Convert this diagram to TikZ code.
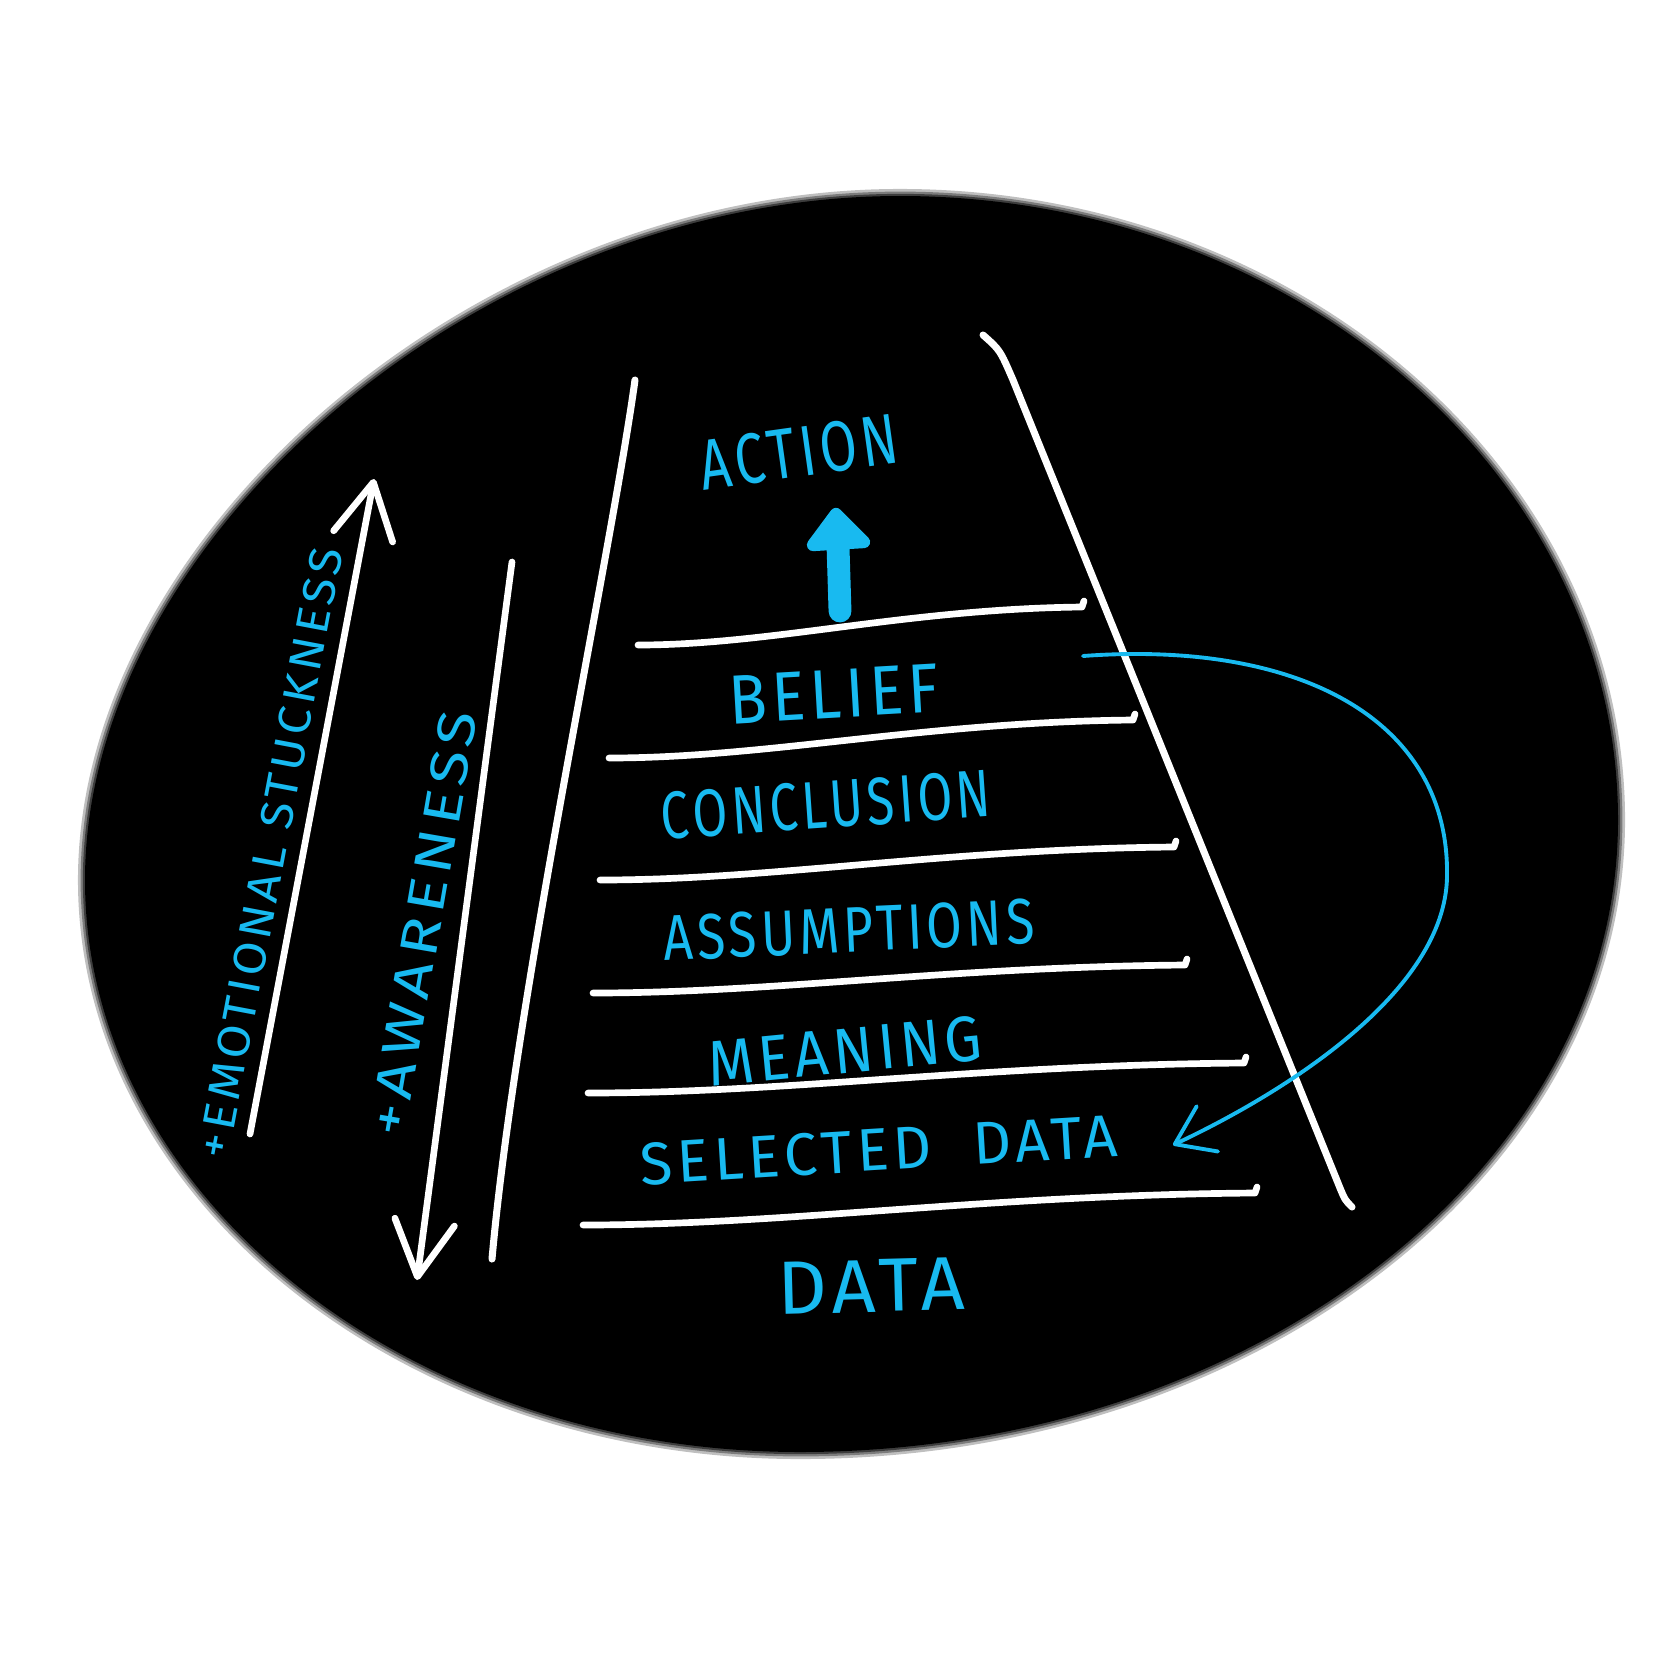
\documentclass[tikz,border=0pt]{standalone}
\usepackage{fontspec}
\setmainfont{Fira Sans}[LetterSpace=8]
\usetikzlibrary{arrows.meta}
\definecolor{inkblue}{RGB}{24,186,240}
\newcommand{\scribble}[3]{\resizebox{#1}{#2}{#3}}
\tikzset{
    blob/.style={fill=black, preaction={draw=black, line width=4pt, opacity=.25}, preaction={draw=black, line width=2.5pt, opacity=.35}, preaction={draw=black, line width=1.2pt, opacity=.5}},
    rail/.style={draw=white, line width=2pt, line cap=round},
    rung/.style={draw=white, line width=1.9pt, line cap=round, line join=round},
    sidearrow/.style={draw=white, line width=1.9pt, line cap=round, -{Straight Barb[length=5.5mm, width=6mm, round]}},
    inklbl/.style={text=inkblue, inner sep=0pt},
    loopback/.style={draw=inkblue, line width=1.1pt, line cap=round, -{Straight Barb[length=3.6mm, width=5mm, round]}},
    upshaft/.style={draw=inkblue, line width=6.5pt, line cap=round},
    uphead/.style={fill=inkblue, draw=inkblue, line width=3.5pt, line join=round},
}

\begin{document}
\begin{tikzpicture}[x=0.01cm, y=-0.01cm]
    \useasboundingbox (0,0) rectangle (1676,1676);
    \fill[white] (0,0) rectangle (1676,1676);
    % background blob
    \path[blob] (900,196) .. controls (1295,196) and (1618,477) .. (1618,820)
        .. controls (1618,1168) and (1250,1452) .. (800,1452)
        .. controls (407,1452) and (85,1195) .. (85,880)
        .. controls (85,540) and (480,196) .. cycle;

    % ladder
    \draw[rail] (635,380) .. controls (610,560) and (515,1000) .. (492,1259);
    \draw[rail] (983,335) .. controls (1000,350) .. (1013,380) -- (1340,1188) .. controls (1345,1200) .. (1352,1207);
    \foreach \lx/\ly/\rx/\ry in {638/645/1082/607, 609/758/1133/720, 600/880/1174/847, 593/993/1185/965, 588/1093/1244/1063, 583/1225/1255/1193}
        \draw[rung] (\lx,\ly) .. controls ({\lx+0.3*(\rx-\lx)},{\ly}) and ({\lx+0.6*(\rx-\lx)},{\ry+2}) .. (\rx,\ry) -- ++(2,-6);

    \node[inklbl, rotate=8]   (action)      at (799,452)  {\scribble{1.99cm}{0.5cm}{ACTION}};
    \node[inklbl, rotate=3.3] (belief)      at (834,694)  {\scribble{2.1cm}{0.48cm}{BELIEF}};
    \node[inklbl, rotate=4]   (conclusion)  at (826,805)  {\scribble{3.3cm}{0.47cm}{CONCLUSION}};
    \node[inklbl, rotate=2.6] (assumptions) at (849,930)  {\scribble{3.71cm}{0.45cm}{ASSUMPTIONS}};
    \node[inklbl, rotate=5.5] (meaning)     at (845,1051) {\scribble{2.75cm}{0.45cm}{MEANING}};
    \node[inklbl, rotate=3.5] (selected)    at (879,1150) {\scribble{4.78cm}{0.42cm}{SELECTED\ \ DATA}};
    \node[inklbl, rotate=1.5] (data)        at (871,1286) {\scribble{1.87cm}{0.52cm}{DATA}};

    % up arrow to action
    \coordinate (upbase) at (840,611);
    \coordinate (upneck) at (838,546);
    \draw[upshaft] (upbase) -- (upneck);
    \filldraw[uphead] (813,545) -- (836,514) -- (864,542) -- cycle;

    % loop back to selected data
    \coordinate (loopstart) at (1083,656);
    \coordinate (loopend) at (1173,1145);
    \draw[loopback] (loopstart) .. controls (1300,640) and (1450,720) .. (1447,877) .. controls (1445,990) and (1290,1090) .. (loopend);

    % side arrows
    \coordinate (stuckbot) at (250,1134);
    \coordinate (stucktop) at (374,479);
    \draw[sidearrow] (stuckbot) -- (stucktop);
    \node[inklbl, rotate=79.3] (stuck) at (270,853) {\scribble{6.2cm}{0.32cm}{+EMOTIONAL STUCKNESS}};

    \coordinate (awaretop) at (512,562);
    \coordinate (awarebot) at (417,1280);
    \draw[sidearrow] (awaretop) -- (awarebot);
    \node[inklbl, rotate=80.2] (aware) at (423,923) {\scribble{4.3cm}{0.37cm}{+AWARENESS}};
\end{tikzpicture}
\end{document}
